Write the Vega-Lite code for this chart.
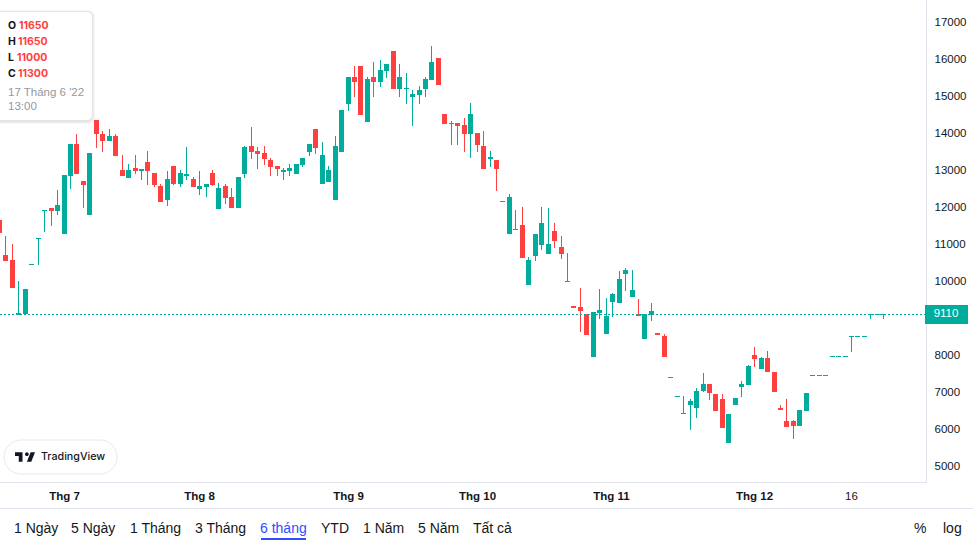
{
  "$schema": "https://vega.github.io/schema/vega-lite/v6.json",
  "width": 926,
  "height": 482,
  "autosize": {"type": "none"},
  "padding": {"left": 0, "top": 0, "right": 47, "bottom": 64},
  "background": "#ffffff",
  "datasets": {
    "candles": [
      {"i":0,"o":11650,"h":11650,"l":11000,"c":11300},
      {"i":1,"o":10709,"h":11222,"l":10547,"c":10547},
      {"i":2,"o":10574,"h":11006,"l":9818,"c":9818},
      {"i":3,"o":9100,"h":10007,"l":9100,"c":9130},
      {"i":4,"o":9107,"h":9791,"l":9107,"c":9791},
      {"i":5,"o":10443,"h":10471,"l":10443,"c":10471},
      {"i":6,"o":11145,"h":11173,"l":10439,"c":11173},
      {"i":7,"o":11901,"h":11929,"l":11330,"c":11929},
      {"i":8,"o":11978,"h":11990,"l":11492,"c":11897},
      {"i":9,"o":11897,"h":12464,"l":11789,"c":12059},
      {"i":10,"o":11276,"h":12869,"l":11276,"c":12869},
      {"i":11,"o":12842,"h":13706,"l":12491,"c":13706},
      {"i":12,"o":13706,"h":13976,"l":12896,"c":12896},
      {"i":13,"o":12707,"h":12707,"l":11978,"c":12599},
      {"i":14,"o":11789,"h":13463,"l":11789,"c":13463},
      {"i":15,"o":14354,"h":14354,"l":13598,"c":13976},
      {"i":16,"o":13976,"h":14057,"l":13490,"c":13787},
      {"i":17,"o":13787,"h":14111,"l":13787,"c":13922},
      {"i":18,"o":13922,"h":13976,"l":13382,"c":13382},
      {"i":19,"o":13004,"h":13409,"l":12842,"c":12842},
      {"i":20,"o":12788,"h":13166,"l":12788,"c":13004},
      {"i":21,"o":13058,"h":13409,"l":12896,"c":12977},
      {"i":22,"o":12990,"h":13018,"l":12734,"c":13018},
      {"i":23,"o":13220,"h":13517,"l":12599,"c":12977},
      {"i":24,"o":12923,"h":12923,"l":12545,"c":12599},
      {"i":25,"o":12572,"h":12626,"l":12140,"c":12140},
      {"i":26,"o":12194,"h":12977,"l":12032,"c":12761},
      {"i":27,"o":13112,"h":13112,"l":12599,"c":12626},
      {"i":28,"o":12626,"h":13004,"l":12545,"c":12923},
      {"i":29,"o":12855,"h":13625,"l":12734,"c":12883},
      {"i":30,"o":12761,"h":12815,"l":12545,"c":12545},
      {"i":31,"o":12491,"h":12977,"l":12329,"c":12572},
      {"i":32,"o":12545,"h":12626,"l":12275,"c":12626},
      {"i":33,"o":12923,"h":13004,"l":12572,"c":12599},
      {"i":34,"o":11951,"h":12653,"l":11951,"c":12518},
      {"i":35,"o":12572,"h":12626,"l":12086,"c":12248},
      {"i":36,"o":12275,"h":12518,"l":11978,"c":11978},
      {"i":37,"o":11978,"h":12815,"l":11978,"c":12815},
      {"i":38,"o":12896,"h":13652,"l":12788,"c":13625},
      {"i":39,"o":13652,"h":14165,"l":13301,"c":13490},
      {"i":40,"o":13517,"h":13625,"l":13031,"c":13436},
      {"i":41,"o":13463,"h":13652,"l":13139,"c":13301},
      {"i":42,"o":13274,"h":13328,"l":12842,"c":13085},
      {"i":43,"o":13112,"h":13112,"l":12842,"c":13031},
      {"i":44,"o":12950,"h":13058,"l":12734,"c":13004},
      {"i":45,"o":12977,"h":13166,"l":12842,"c":13058},
      {"i":46,"o":12896,"h":13166,"l":12896,"c":13166},
      {"i":47,"o":13139,"h":13328,"l":13085,"c":13328},
      {"i":48,"o":13490,"h":13706,"l":13382,"c":13706},
      {"i":49,"o":14111,"h":14111,"l":13436,"c":13598},
      {"i":50,"o":12626,"h":13760,"l":12626,"c":13409},
      {"i":51,"o":12680,"h":13112,"l":12680,"c":13004},
      {"i":52,"o":12194,"h":13922,"l":12194,"c":13652},
      {"i":53,"o":13490,"h":14624,"l":13490,"c":14624},
      {"i":54,"o":14786,"h":15515,"l":14597,"c":15515},
      {"i":55,"o":15515,"h":15812,"l":14975,"c":15380},
      {"i":56,"o":15812,"h":15812,"l":14489,"c":14489},
      {"i":57,"o":14300,"h":15515,"l":14300,"c":15461},
      {"i":58,"o":15515,"h":15920,"l":14975,"c":15380},
      {"i":59,"o":15380,"h":15974,"l":15245,"c":15704},
      {"i":60,"o":15677,"h":15866,"l":15488,"c":15866},
      {"i":61,"o":16217,"h":16217,"l":15191,"c":15191},
      {"i":62,"o":15191,"h":15866,"l":14975,"c":15515},
      {"i":63,"o":15195,"h":15623,"l":14786,"c":15223},
      {"i":64,"o":14975,"h":15164,"l":14192,"c":15056},
      {"i":65,"o":15029,"h":15272,"l":14786,"c":15164},
      {"i":66,"o":15191,"h":15515,"l":14975,"c":15461},
      {"i":67,"o":15434,"h":16352,"l":15434,"c":15920},
      {"i":68,"o":16028,"h":16028,"l":15299,"c":15299},
      {"i":69,"o":14516,"h":14516,"l":14246,"c":14246},
      {"i":70,"o":14250,"h":14327,"l":13679,"c":14278},
      {"i":71,"o":14273,"h":14273,"l":13679,"c":14192},
      {"i":72,"o":14219,"h":14408,"l":13490,"c":13976},
      {"i":73,"o":13976,"h":14813,"l":13328,"c":14516},
      {"i":74,"o":14003,"h":14003,"l":13490,"c":13679},
      {"i":75,"o":13652,"h":14057,"l":13031,"c":13031},
      {"i":76,"o":13301,"h":13517,"l":13085,"c":13355},
      {"i":77,"o":13274,"h":13274,"l":12437,"c":13031},
      {"i":78,"o":12144,"h":12172,"l":12144,"c":12172},
      {"i":79,"o":11276,"h":12356,"l":11276,"c":12275},
      {"i":80,"o":11388,"h":11924,"l":11388,"c":11416},
      {"i":81,"o":11519,"h":12005,"l":10628,"c":10628},
      {"i":82,"o":9899,"h":10655,"l":9899,"c":10574},
      {"i":83,"o":10682,"h":11276,"l":10547,"c":11276},
      {"i":84,"o":10979,"h":12005,"l":10844,"c":11573},
      {"i":85,"o":10736,"h":11978,"l":10736,"c":11006},
      {"i":86,"o":11357,"h":11573,"l":10898,"c":11087},
      {"i":87,"o":10925,"h":11222,"l":10601,"c":10736},
      {"i":88,"o":9975,"h":10763,"l":9975,"c":10003},
      {"i":89,"o":9330,"h":9330,"l":9280,"c":9280},
      {"i":90,"o":9305,"h":9818,"l":8630,"c":9197},
      {"i":91,"o":9116,"h":9116,"l":8549,"c":8549},
      {"i":92,"o":7955,"h":9170,"l":7955,"c":9170},
      {"i":93,"o":9143,"h":9791,"l":8981,"c":9224},
      {"i":94,"o":8576,"h":9548,"l":8576,"c":9062},
      {"i":95,"o":9440,"h":9683,"l":9035,"c":9656},
      {"i":96,"o":9413,"h":10277,"l":9413,"c":10061},
      {"i":97,"o":10196,"h":10358,"l":9737,"c":10304},
      {"i":98,"o":9575,"h":10304,"l":9575,"c":9764},
      {"i":99,"o":9116,"h":9521,"l":9062,"c":9062},
      {"i":100,"o":8441,"h":9116,"l":8441,"c":9116},
      {"i":101,"o":9089,"h":9413,"l":8927,"c":9197},
      {"i":102,"o":8603,"h":8603,"l":8549,"c":8549},
      {"i":103,"o":8522,"h":8576,"l":7955,"c":7955},
      {"i":104,"o":7392,"h":7420,"l":7392,"c":7420},
      {"i":105,"o":6879,"h":6907,"l":6879,"c":6907},
      {"i":106,"o":6420,"h":6893,"l":6420,"c":6448},
      {"i":107,"o":6659,"h":6821,"l":5984,"c":6767},
      {"i":108,"o":6578,"h":7118,"l":6308,"c":7037},
      {"i":109,"o":7037,"h":7523,"l":7010,"c":7226},
      {"i":110,"o":7226,"h":7226,"l":6794,"c":6983},
      {"i":111,"o":6956,"h":6956,"l":6497,"c":6497},
      {"i":112,"o":6821,"h":6956,"l":6038,"c":6038},
      {"i":113,"o":5633,"h":6416,"l":5633,"c":6416},
      {"i":114,"o":6659,"h":6848,"l":6659,"c":6848},
      {"i":115,"o":7145,"h":7307,"l":6875,"c":7226},
      {"i":116,"o":7199,"h":7739,"l":7199,"c":7712},
      {"i":117,"o":8009,"h":8225,"l":7685,"c":7901},
      {"i":118,"o":7631,"h":7955,"l":7631,"c":7928},
      {"i":119,"o":7928,"h":8117,"l":7550,"c":7550},
      {"i":120,"o":7550,"h":7550,"l":7010,"c":7010},
      {"i":121,"o":6578,"h":6659,"l":6524,"c":6524},
      {"i":122,"o":6227,"h":6821,"l":6065,"c":6065},
      {"i":123,"o":6227,"h":6254,"l":5741,"c":6092},
      {"i":124,"o":6092,"h":6524,"l":6092,"c":6524},
      {"i":125,"o":6497,"h":6983,"l":6497,"c":6983},
      {"i":126,"o":7446,"h":7474,"l":7446,"c":7474},
      {"i":127,"o":7446,"h":7474,"l":7446,"c":7474},
      {"i":128,"o":7446,"h":7474,"l":7446,"c":7474},
      {"i":129,"o":7959,"h":7987,"l":7959,"c":7987},
      {"i":130,"o":7959,"h":7987,"l":7959,"c":7987},
      {"i":131,"o":7959,"h":7987,"l":7959,"c":7987},
      {"i":132,"o":8499,"h":8527,"l":8090,"c":8527},
      {"i":133,"o":8499,"h":8527,"l":8499,"c":8527},
      {"i":134,"o":8499,"h":8527,"l":8499,"c":8527},
      {"i":135,"o":9093,"h":9121,"l":8981,"c":9121},
      {"i":136,"o":9093,"h":9121,"l":9093,"c":9121},
      {"i":137,"o":9093,"h":9121,"l":8981,"c":9121}
    ],
    "lastPrice": [{"v":9110}],
    "tipHeads": [
      {"label":"O","i":1.24,"v":16892},
      {"label":"H","i":1.24,"v":16460},
      {"label":"L","i":1.24,"v":16028},
      {"label":"C","i":1.24,"v":15596}
    ],
    "tipValues": [
      {"label":"11650","i":2.94,"v":16892},
      {"label":"11650","i":2.84,"v":16460},
      {"label":"11000","i":2.59,"v":16028},
      {"label":"11300","i":2.84,"v":15596}
    ],
    "tipDate": [
      {"label":"17 Tháng 6 '22","i":1.24,"v":15083},
      {"label":"13:00","i":1.24,"v":14705}
    ],
    "tipShadow": [
      {"i":-1,"i2":14.75,"v":14246,"v2":17324},
      {"i":-1,"i2":14.6,"v":14273,"v2":17297},
      {"i":-1,"i2":14.45,"v":14300,"v2":17297}
    ],
    "tipBox": [{"i":-1,"i2":14.25,"v":14354,"v2":17270}],
    "badge": [{"i":0.62,"i2":18.13,"v":4796,"v2":5714}],
    "badgeLogo": [{"i":3.87,"v":5242}],
    "badgeText": [{"label":"TradingView","i":6.35,"v":5242}],
    "priceTag": [{"i":143.3,"i2":149.96,"v":8854,"v2":9359}],
    "priceText": [{"label":"9110","i":146.63,"v":9110}],
    "footerLine": [{"i":0,"i2":150.74,"v":3878}],
    "activeLine": [{"i":40.43,"i2":47.41,"v":3041}],
    "footer": [
      {"label":"1 Ngày","i":2.17,"v":3311},
      {"label":"5 Ngày","i":11.05,"v":3311},
      {"label":"1 Tháng","i":20.1,"v":3311},
      {"label":"3 Tháng","i":30.21,"v":3311},
      {"label":"6 tháng","i":40.28,"v":3311},
      {"label":"YTD","i":49.73,"v":3311},
      {"label":"1 Năm","i":56.31,"v":3311},
      {"label":"5 Năm","i":64.76,"v":3311},
      {"label":"Tất cả","i":73.28,"v":3311},
      {"label":"%","i":141.67,"v":3311},
      {"label":"log","i":146.09,"v":3311}
    ]
  },
  "encoding": {
    "x": {
      "field": "i",
      "type": "quantitative",
      "scale": {"domain": [0, 143.46], "round": true, "nice": false, "zero": false, "padding": 0},
      "axis": {
        "title": null,
        "orient": "bottom",
        "grid": false,
        "ticks": false,
        "domainColor": "#e0e3eb",
        "values": [9.84, 30.83, 53.9, 73.9, 94.65, 116.8, 131.84],
        "labelExpr": "datum.value<20?'Thg 7':datum.value<40?'Thg 8':datum.value<60?'Thg 9':datum.value<80?'Thg 10':datum.value<100?'Thg 11':datum.value<120?'Thg 12':'16'",
        "labelFont": "Liberation Sans",
        "labelFontSize": 11.5,
        "labelFontWeight": {"condition": {"test": "datum.value>120", "value": "normal"}, "value": "bold"},
        "labelColor": "#131722",
        "labelPadding": 8,
        "labelFlush": false,
        "labelOverlap": false
      }
    },
    "y": {
      "field": "v",
      "type": "quantitative",
      "scale": {"domain": [4580, 17594], "round": true, "nice": false, "zero": false},
      "axis": {
        "title": null,
        "orient": "right",
        "grid": false,
        "ticks": false,
        "domainColor": "#e0e3eb",
        "values": [5000, 6000, 7000, 8000, 10000, 11000, 12000, 13000, 14000, 15000, 16000, 17000],
        "format": "d",
        "labelFont": "Liberation Sans",
        "labelFontSize": 11.5,
        "labelColor": "#131722",
        "labelPadding": 8
      }
    }
  },
  "layer": [
    {
      "data": {"name": "candles"},
      "mark": {"type": "rule", "strokeWidth": 1, "xOffset": -0.5},
      "encoding": {
        "y": {
          "field": "l",
          "type": "quantitative",
          "scale": {"domain": [4580, 17594], "round": true, "nice": false, "zero": false},
          "axis": {
            "title": null,
            "orient": "right",
            "grid": false,
            "ticks": false,
            "domainColor": "#e0e3eb",
            "values": [5000, 6000, 7000, 8000, 10000, 11000, 12000, 13000, 14000, 15000, 16000, 17000],
            "format": "d",
            "labelFont": "Liberation Sans",
            "labelFontSize": 11.5,
            "labelColor": "#131722",
            "labelPadding": 8
          }
        },
        "y2": {"field": "h"},
        "color": {"condition": {"test": "datum.c<datum.o", "value": "#ff4040"}, "value": "#00ad9c"}
      }
    },
    {
      "data": {"name": "candles"},
      "mark": {"type": "bar", "orient": "vertical", "size": 5, "xOffset": -0.5},
      "encoding": {
        "y": {
          "field": "o",
          "type": "quantitative",
          "scale": {"domain": [4580, 17594], "round": true, "nice": false, "zero": false},
          "axis": {
            "title": null,
            "orient": "right",
            "grid": false,
            "ticks": false,
            "domainColor": "#e0e3eb",
            "values": [5000, 6000, 7000, 8000, 10000, 11000, 12000, 13000, 14000, 15000, 16000, 17000],
            "format": "d",
            "labelFont": "Liberation Sans",
            "labelFontSize": 11.5,
            "labelColor": "#131722",
            "labelPadding": 8
          }
        },
        "y2": {"field": "c"},
        "color": {"condition": {"test": "datum.c<datum.o", "value": "#ff4040"}, "value": "#00ad9c"}
      }
    },
    {
      "data": {"name": "lastPrice"},
      "mark": {"type": "rule", "stroke": "#00ad9c", "strokeWidth": 1, "strokeDash": [2, 2], "yOffset": 0.5},
      "encoding": {"x": {"value": 0}, "x2": {"value": 926}}
    },
    {
      "data": {"name": "priceTag"},
      "mark": {"type": "rect", "fill": "#00ad9c"},
      "encoding": {"x2": {"field": "i2"}, "y2": {"field": "v2"}}
    },
    {
      "data": {"name": "priceText"},
      "mark": {"type": "text", "align": "center", "baseline": "middle", "font": "Liberation Sans", "fontSize": 11.5, "fill": "#ffffff"},
      "encoding": {"text": {"field": "label"}}
    },
    {
      "data": {"name": "tipShadow"},
      "mark": {"type": "rect", "fill": "#000000", "opacity": 0.035, "cornerRadius": 6},
      "encoding": {"x2": {"field": "i2"}, "y2": {"field": "v2"}}
    },
    {
      "data": {"name": "tipBox"},
      "mark": {"type": "rect", "fill": "#ffffff", "cornerRadius": 5},
      "encoding": {"x2": {"field": "i2"}, "y2": {"field": "v2"}}
    },
    {
      "data": {"name": "tipHeads"},
      "mark": {"type": "text", "align": "left", "baseline": "middle", "font": "Inter", "fontSize": 10.5, "fontWeight": "bold", "fill": "#131722"},
      "encoding": {"text": {"field": "label"}}
    },
    {
      "data": {"name": "tipValues"},
      "mark": {"type": "text", "align": "left", "baseline": "middle", "font": "Inter", "fontSize": 10.5, "fontWeight": "bold", "fill": "#ff4040"},
      "encoding": {"text": {"field": "label"}}
    },
    {
      "data": {"name": "tipDate"},
      "mark": {"type": "text", "align": "left", "baseline": "middle", "font": "Liberation Sans", "fontSize": 11.5, "fill": "#9598a1"},
      "encoding": {"text": {"field": "label"}}
    },
    {
      "data": {"name": "badge"},
      "mark": {"type": "rect", "fill": "#ffffff", "stroke": "#e9e9ee", "strokeWidth": 1, "cornerRadius": 17},
      "encoding": {"x2": {"field": "i2"}, "y2": {"field": "v2"}}
    },
    {
      "data": {"name": "badgeLogo"},
      "mark": {
        "type": "point",
        "filled": true,
        "fill": "#131722",
        "opacity": 1,
        "size": 400,
        "shape": "M-0.25,-0.47H-1V-0.094H-0.625V0.47H-0.25ZM0.625,0.47H0.1875L0.5625,-0.47H1ZM0.1875,-0.094a0.1875,0.1875 0 1 0 0,-0.375 0.1875,0.1875 0 0 0 0,0.375Z"
      }
    },
    {
      "data": {"name": "badgeText"},
      "mark": {"type": "text", "align": "left", "baseline": "middle", "font": "Inter", "fontSize": 10.7, "fontWeight": 500, "fill": "#131722"},
      "encoding": {"text": {"field": "label"}}
    },
    {
      "data": {"name": "footerLine"},
      "mark": {"type": "rule", "stroke": "#e0e3eb", "strokeWidth": 1, "yOffset": 0.5},
      "encoding": {"x2": {"field": "i2"}}
    },
    {
      "data": {"name": "activeLine"},
      "mark": {"type": "rule", "stroke": "#2f4dff", "strokeWidth": 2},
      "encoding": {"x2": {"field": "i2"}}
    },
    {
      "data": {"name": "footer"},
      "mark": {"type": "text", "align": "left", "baseline": "middle", "font": "Liberation Sans", "fontSize": 14},
      "encoding": {
        "text": {"field": "label"},
        "color": {"condition": {"test": "datum.label=='6 tháng'", "value": "#2f4dff"}, "value": "#131722"}
      }
    }
  ],
  "config": {"view": {"stroke": null}}
}
